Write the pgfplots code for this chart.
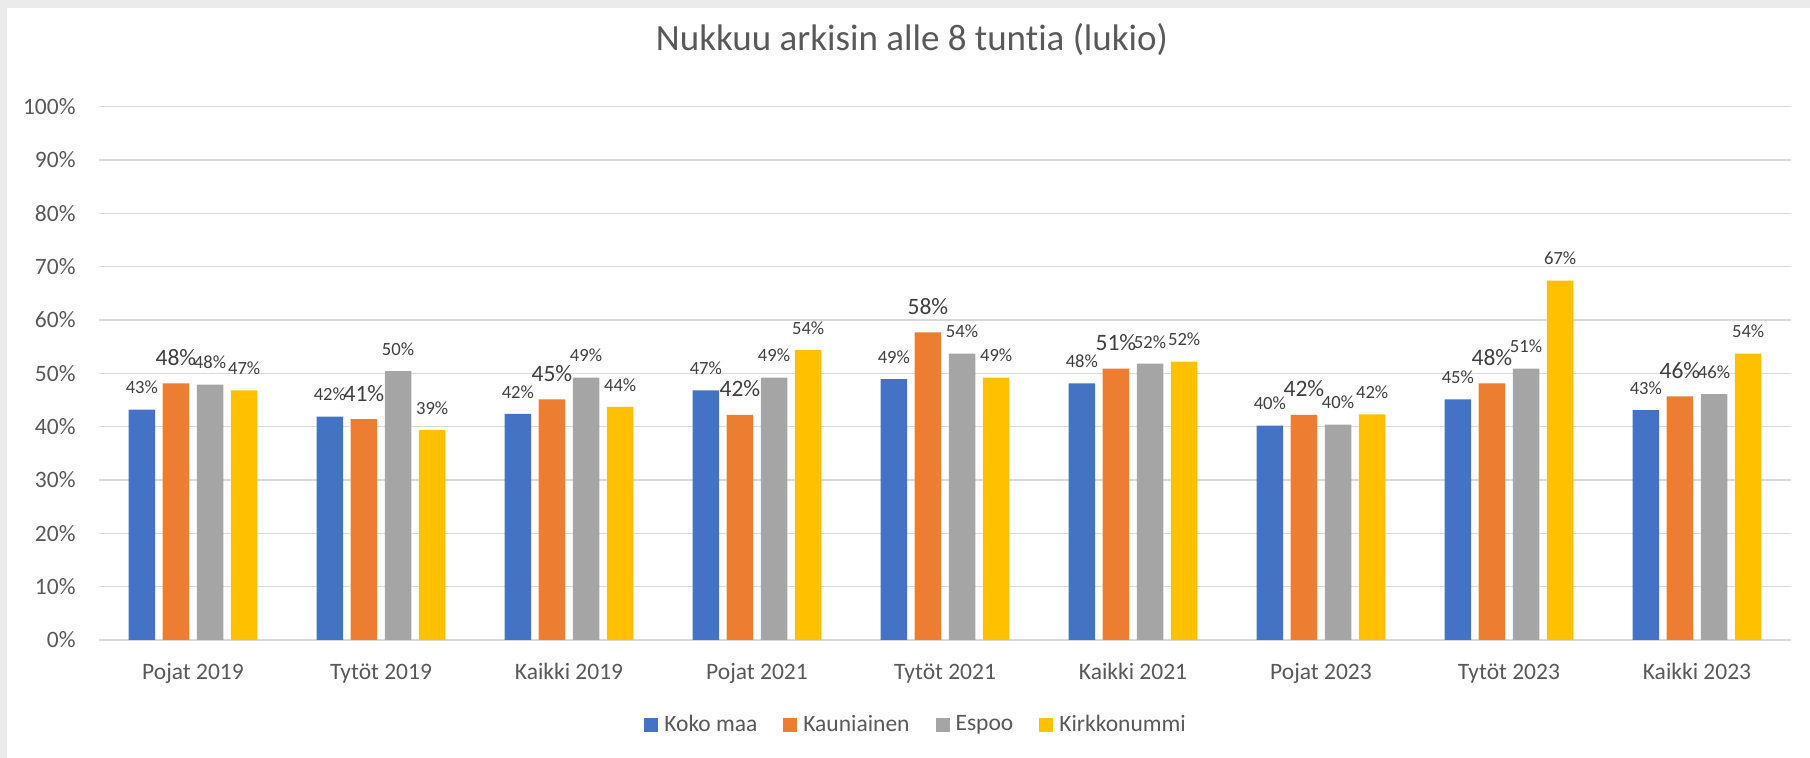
\documentclass[border=0pt]{standalone}
\usepackage{fontspec}
\setmainfont{Carlito}[Ligatures={NoCommon,NoContextual,NoRare}]
\usepackage{pgfplots}
\usepackage{pgfplotstable}
\pgfplotsset{compat=1.18}
\definecolor{cBlue}{HTML}{4472C4}
\definecolor{cOrange}{HTML}{ED7D31}
\definecolor{cGray}{HTML}{A5A5A5}
\definecolor{cYellow}{HTML}{FFC000}
\definecolor{txt}{HTML}{595959}
\definecolor{lbl}{HTML}{404040}
\definecolor{gridc}{HTML}{D9D9D9}
\definecolor{framec}{HTML}{EBEBEB}
\pgfplotstableread{
x blue orange gray yellow
0 43.2 48.1 47.9 46.8
1 41.9 41.4 50.4 39.4
2 42.4 45.1 49.2 43.7
3 46.8 42.2 49.2 54.4
4 48.9 57.7 53.7 49.2
5 48.1 50.9 51.8 52.2
6 40.2 42.2 40.4 42.3
7 45.1 48.1 50.9 67.4
8 43.1 45.7 46.1 53.7
}\datatable
\begin{document}
\begin{tikzpicture}
\fill[framec] (0pt,0pt) rectangle (905pt,379pt);
\fill[white] (3.5pt,0pt) rectangle (905pt,375pt);
\useasboundingbox (0pt,0pt) rectangle (905pt,379pt);
\begin{axis}[
  at={(49.5pt,59pt)}, anchor=south west,
  scale only axis, width=846pt, height=266.67pt,
  xmin=-0.5, xmax=8.5, ymin=0, ymax=100,
  ybar=3.8pt, bar width=13.25pt,
  axis line style={draw=none},
  major tick length=0pt,
  ymajorgrids=true, xmajorgrids=false,
  major grid style={draw=gridc, line width=0.8pt},
  ytick={0,10,...,100},
  /pgf/number format/assume math mode=true,
  yticklabel={\pgfmathprintnumber{\tick}\%},
  yticklabel style={font=\fontsize{11.75}{14}\selectfont, text=txt, inner sep=0pt, anchor=east, xshift=-11.5pt},
  xtick=data,
  xticklabels={Pojat 2019, Tytöt 2019, Kaikki 2019, Pojat 2021, Tytöt 2021, Kaikki 2021, Pojat 2023, Tytöt 2023, Kaikki 2023},
  xticklabel style={font=\fontsize{11.75}{14}\selectfont, text=txt, inner sep=0pt, anchor=base, yshift=-19.6pt},
  nodes near coords={\pgfmathprintnumber[fixed,precision=0]{\pgfplotspointmeta}\%},
  every node near coord/.append style={font=\fontsize{9.3}{11}\selectfont, text=lbl, inner sep=0pt, anchor=base, yshift=7.8pt},
  title={Nukkuu arkisin alle 8 tuntia (lukio)},
  title style={at={(axis description cs:0.4805,1.1026)}, anchor=center, font=\fontsize{18.5}{22}\selectfont, text=txt, inner sep=0pt},
  legend image code/.code={\fill[#1] (0pt,-3.5pt) rectangle (7pt,3.5pt);},
  legend style={draw=none, fill=none, at={(axis description cs:0.4823,-0.159)}, anchor=center,
    legend columns=-1, font=\fontsize{11.75}{14}\selectfont, text=txt,
    nodes={inner sep=0pt},
    /tikz/every odd column/.append style={column sep=3pt},
    /tikz/every even column/.append style={column sep=13pt}},
]
\addplot[fill=cBlue, draw=none] table[x=x, y=blue] {\datatable};
\addplot[fill=cOrange, draw=none, every node near coord/.append style={font=\fontsize{11.75}{14}\selectfont, yshift=1.2pt}] table[x=x, y=orange] {\datatable};
\addplot[fill=cGray, draw=none] table[x=x, y=gray] {\datatable};
\addplot[fill=cYellow, draw=none] table[x=x, y=yellow] {\datatable};
\legend{Koko maa, Kauniainen, Espoo, Kirkkonummi}
\end{axis}
\end{tikzpicture}
\end{document}
